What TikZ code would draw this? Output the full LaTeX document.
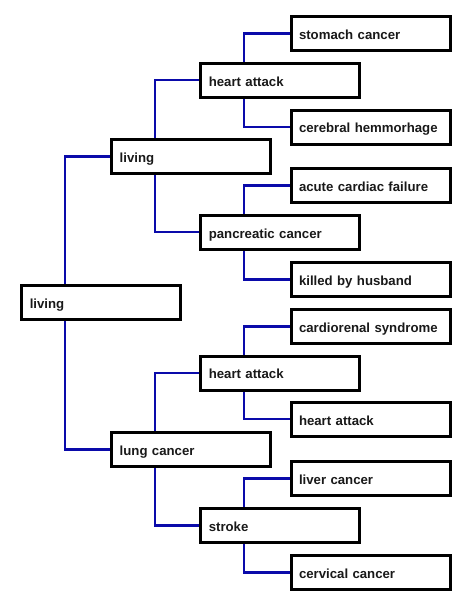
\documentclass[tikz,border=0pt]{standalone}
\usepackage{fontspec}
\setmainfont{Liberation Sans}
\definecolor{linkblue}{RGB}{10,10,170}
\tikzset{
  box/.style={draw=black, line width=2pt, fill=white, minimum width=157pt, minimum height=33pt,
    text width=143pt, inner xsep=7.5pt, inner ysep=2pt, align=left,
    text height=11.5pt, text depth=0pt,
    font=\fontsize{13.2}{15}\selectfont\bfseries, text=black!90},
  link/.style={draw=linkblue, line width=2.3pt}
}
\begin{document}
\begin{tikzpicture}[x=1pt,y=1pt]
\useasboundingbox[fill=white] (0,0) rectangle (471,-603);
% level 0
\node[box] (r) at (101.3,-302.5) {living};
% level 1
\node[box] (a) at (191.2,-156.5) {living};
\node[box] (b) at (191.2,-449.5) {lung cancer};
% level 2
\node[box] (a1) at (280.3,-80.3) {heart attack};
\node[box] (a2) at (280.3,-232.3) {pancreatic cancer};
\node[box] (b1) at (280.3,-373) {heart attack};
\node[box] (b2) at (280.3,-525.5) {stroke};
% level 3
\node[box] (a11) at (370.5,-33.5) {stomach cancer};
\node[box] (a12) at (370.5,-127) {cerebral hemmorhage};
\node[box] (a21) at (370.5,-185.5) {acute cardiac failure};
\node[box] (a22) at (370.5,-279.5) {killed by husband};
\node[box] (b11) at (370.5,-326.5) {cardiorenal syndrome};
\node[box] (b12) at (370.5,-419.3) {heart attack};
\node[box] (b21) at (370.5,-478.5) {liver cancer};
\node[box] (b22) at (370.5,-572.5) {cervical cancer};
% connectors
\foreach \p/\u/\d in {r/a/b, a/a1/a2, b/b1/b2, a1/a11/a12, a2/a21/a22, b1/b11/b12, b2/b21/b22}{
  \draw[link] ([xshift=44pt]\p.north west) |- (\u.west);
  \draw[link] ([xshift=44pt]\p.south west) |- (\d.west);
}
% redraw boxes' borders on top
\foreach \n in {r,a,b,a1,a2,b1,b2,a11,a12,a21,a22,b11,b12,b21,b22}{
  \draw[black, line width=2pt] (\n.north west) rectangle (\n.south east);
}
\end{tikzpicture}
\end{document}
